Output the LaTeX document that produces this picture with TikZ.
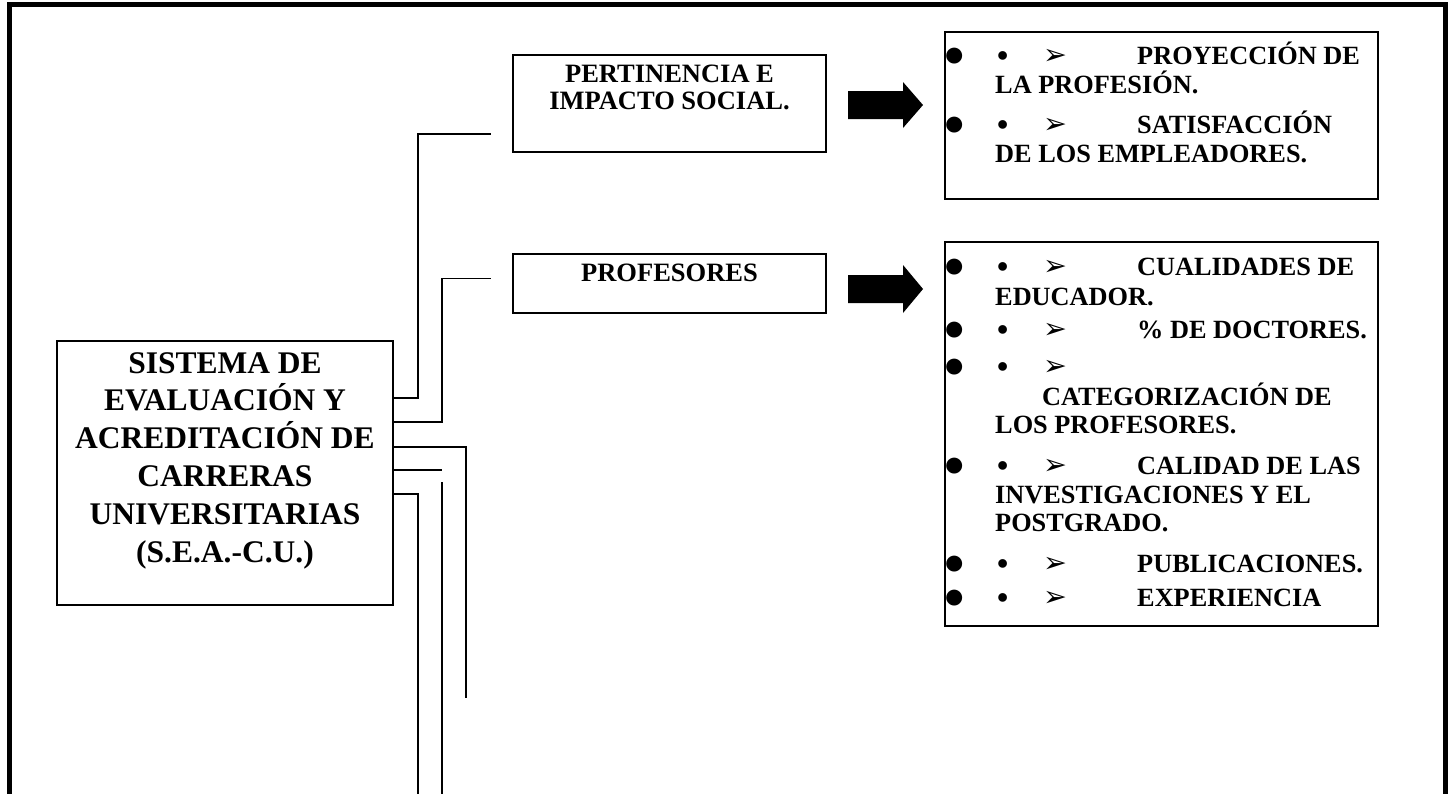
\documentclass[tikz,border=0pt]{standalone}
\usepackage{fontspec}
\usepackage{tikz}
\setmainfont{Liberation Serif}
\newfontfamily\arrowfont{DejaVu Sans}
\newcommand{\listrow}[1]{\makebox[52pt][l]{\hspace{-2pt}\fontsize{37}{37}\selectfont\smash{\raisebox{-2.5pt}{●}}}\makebox[46pt][l]{\fontsize{32}{32}\selectfont\smash{\raisebox{-2pt}{•}}}\makebox[94pt][l]{\arrowfont\fontsize{28.5}{28.5}\selectfont\smash{➢}}#1}
\tikzset{
  box/.style={draw, line width=1.5pt, inner sep=0pt, outer sep=0pt},
  wire/.style={line width=1.3pt},
  frame/.style={line width=5pt},
  maintxt/.style={font=\fontsize{31.5}{37.8}\selectfont\bfseries, anchor=base, inner sep=0pt},
  midtxt/.style={font=\fontsize{26.5}{27.6}\selectfont\bfseries, anchor=base, inner sep=0pt},
  listtxt/.style={font=\fontsize{26.3}{29}\selectfont\bfseries, anchor=base west, inner sep=0pt}
}

\begin{document}
\begin{tikzpicture}[x=1pt,y=-1pt]
\useasboundingbox (0,0) rectangle (1453,793);
\draw[frame] (9.5,800) |- (1445.5,4.5) -- (1445.5,800);

\node[box, minimum width=336pt, minimum height=264pt] (seacu) at (225,473) {};
\node[maintxt] (sistema) at (225,373) {SISTEMA DE};
\node[maintxt] (evaluacion) at (225,410.8) {EVALUACIÓN Y};
\node[maintxt] (acreditacion) at (225,448.6) {ACREDITACIÓN DE};
\node[maintxt] (carreras) at (225,486.4) {CARRERAS};
\node[maintxt] (universitarias) at (225,524.2) {UNIVERSITARIAS};
\node[maintxt] (siglas) at (225,562) {(S.E.A.-C.U.)};

\node[box, minimum width=313pt, minimum height=97pt] (pert) at (669.5,103.5) {};
\node[midtxt] (pertA) at (669.5,82) {PERTINENCIA E};
\node[midtxt] (pertB) at (669.5,109.5) {IMPACTO SOCIAL.};

\node[box, minimum width=313pt, minimum height=59pt] (prof) at (669.5,283.5) {};
\node[midtxt] (profT) at (669.5,281) {PROFESORES};

\node[box, minimum width=433pt, minimum height=167pt] (pertlist) at (1161.5,115.5) {};
\node[listtxt] (proyeccion) at (945,64) {\listrow{PROYECCIÓN DE}};
\node[listtxt] (profesion) at (995,93) {LA PROFESIÓN.};
\node[listtxt] (satisfaccion) at (945,133) {\listrow{SATISFACCIÓN}};
\node[listtxt] (empleadores) at (995,162) {DE LOS EMPLEADORES.};

\node[box, minimum width=433pt, minimum height=384pt] (proflist) at (1161.5,434) {};
\node[listtxt] (cualidades) at (945,275) {\listrow{CUALIDADES DE}};
\node[listtxt] (educador) at (995,305) {EDUCADOR.};
\node[listtxt] (doctores) at (945,338) {\listrow{\% DE DOCTORES.}};
\node[listtxt] (catbullets) at (945,375) {\listrow{}};
\node[listtxt] (categorizacion) at (1042,405) {CATEGORIZACIÓN DE};
\node[listtxt] (losprof) at (995,433) {LOS PROFESORES.};
\node[listtxt] (calidad) at (945,474) {\listrow{CALIDAD DE LAS}};
\node[listtxt] (investig) at (995,503) {INVESTIGACIONES Y EL};
\node[listtxt] (postgrado) at (995,531) {POSTGRADO.};
\node[listtxt] (publicaciones) at (945,572) {\listrow{PUBLICACIONES.}};
\node[listtxt] (experiencia) at (945,606) {\listrow{EXPERIENCIA}};

\fill ([xshift=22pt,yshift=-1.5pt]pert.east) ++(0,-14) -- ++(55,0) -- ++(0,-9) -- ++(20,23) -- ++(-20,23) -- ++(0,-9) -- ++(-55,0) -- cycle;
\fill ([xshift=22pt,yshift=-5.5pt]prof.east) ++(0,-14) -- ++(55,0) -- ++(0,-10) -- ++(20,24) -- ++(-20,24) -- ++(0,-10) -- ++(-55,0) -- cycle;

\coordinate (tail3) at (466,698);
\coordinate (tail4) at (442,470);
\coordinate (tail5) at (418,800);
\coordinate (tail6a) at (442,482);
\coordinate (tail6b) at (442,800);
\draw[wire] ([yshift=75pt]seacu.east) -| ([xshift=-95pt,yshift=18pt]pert.south west) -- ([xshift=-22pt,yshift=18pt]pert.south west);
\draw[wire] ([yshift=51pt]seacu.east) -| ([xshift=-71pt,yshift=5pt]prof.west) -- ([xshift=-22pt,yshift=5pt]prof.west);
\draw[wire] ([yshift=26pt]seacu.east) -| (tail3);
\draw[wire] ([yshift=3pt]seacu.east) -- (tail4);
\draw[wire] ([yshift=-21pt]seacu.east) -| (tail5);
\draw[wire] (tail6a) -- (tail6b);
\end{tikzpicture}
\end{document}
